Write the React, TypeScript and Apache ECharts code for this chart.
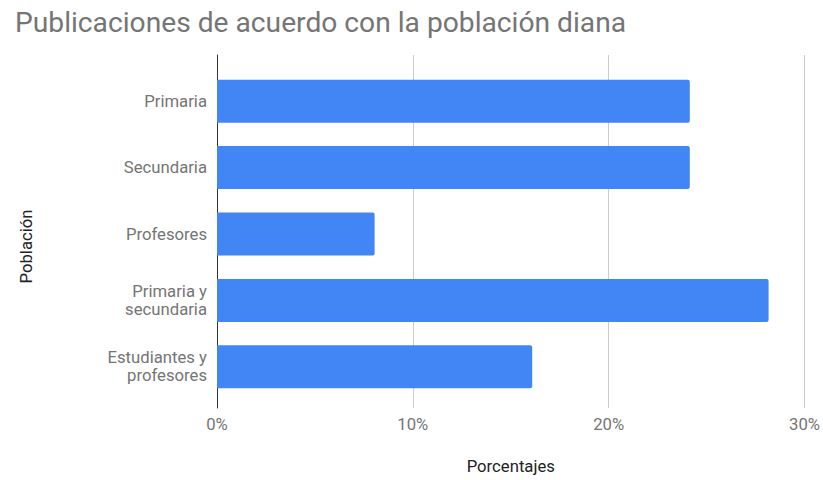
import React, { useEffect, useRef } from "react";
import * as echarts from "echarts";

const title = "Publicaciones de acuerdo con la población diana";
const categories = ["Primaria", "Secundaria", "Profesores", "Primaria y\nsecundaria", "Estudiantes y\nprofesores"];
const values = [24, 24, 8, 28, 16];
const xName = "Porcentajes";
const yName = "Población";
const xMax = 30;
const xInterval = 10;

const FONT = "Roboto";
const TEXT = "#757575";
const FS = 16.7;

export default function App() {
  const ref = useRef<HTMLDivElement>(null);
  useEffect(() => {
    document.body.style.margin = "0";
    const chart = echarts.init(ref.current!, null, { renderer: "svg" });
    chart.setOption({
      animation: false,
      backgroundColor: "#ffffff",
      title: {
        text: title,
        left: 15,
        top: 8,
        padding: 0,
        textStyle: { fontFamily: FONT, fontSize: 28.2, fontWeight: "normal", color: TEXT },
      },
      graphic: [
        {
          type: "text",
          x: 26,
          y: 246.5,
          rotation: Math.PI / 2,
          style: {
            text: yName,
            fontFamily: FONT,
            fontSize: FS,
            fill: "#222222",
            textAlign: "center",
            textVerticalAlign: "middle",
          },
        },
      ],
      grid: [
        { left: 217, right: 15, top: 55, height: 358 },
        { left: 217, right: 15, top: 68, height: 332 },
      ],
      xAxis: [
        {
          gridIndex: 0,
          type: "value",
          min: 0,
          max: xMax,
          interval: xInterval,
          axisLine: { show: false },
          axisTick: { show: false },
          splitLine: { show: true, lineStyle: { color: "#cccccc", width: 1 } },
          axisLabel: { formatter: "{value}%", fontFamily: FONT, fontSize: FS, color: TEXT, margin: 8 },
          name: xName,
          nameLocation: "middle",
          nameGap: 50,
          nameTextStyle: { fontFamily: FONT, fontSize: FS, color: "#222222" },
        },
        {
          gridIndex: 1,
          type: "value",
          min: 0,
          max: xMax,
          show: false,
        },
      ],
      yAxis: [
        {
          gridIndex: 0,
          type: "value",
          min: 0,
          max: 1,
          axisLine: { show: true, lineStyle: { color: "#333333", width: 1 } },
          axisTick: { show: false },
          axisLabel: { show: false },
          splitLine: { show: false },
        },
        {
          gridIndex: 1,
          type: "category",
          inverse: true,
          data: categories,
          axisLine: { show: false },
          axisTick: { show: false },
          splitLine: { show: false },
          axisLabel: {
            fontFamily: FONT,
            fontSize: FS,
            color: TEXT,
            margin: 10,
            lineHeight: 18,
            align: "right",
          },
        },
      ],
      series: [
        {
          type: "bar",
          xAxisIndex: 1,
          yAxisIndex: 1,
          data: values,
          barWidth: 43,
          itemStyle: { color: "#4285f4", borderRadius: [0, 2, 2, 0] },
        },
      ],
    });
    return () => chart.dispose();
  }, []);
  return <div ref={ref} style={{ width: 823, height: 480 }} />;
}
